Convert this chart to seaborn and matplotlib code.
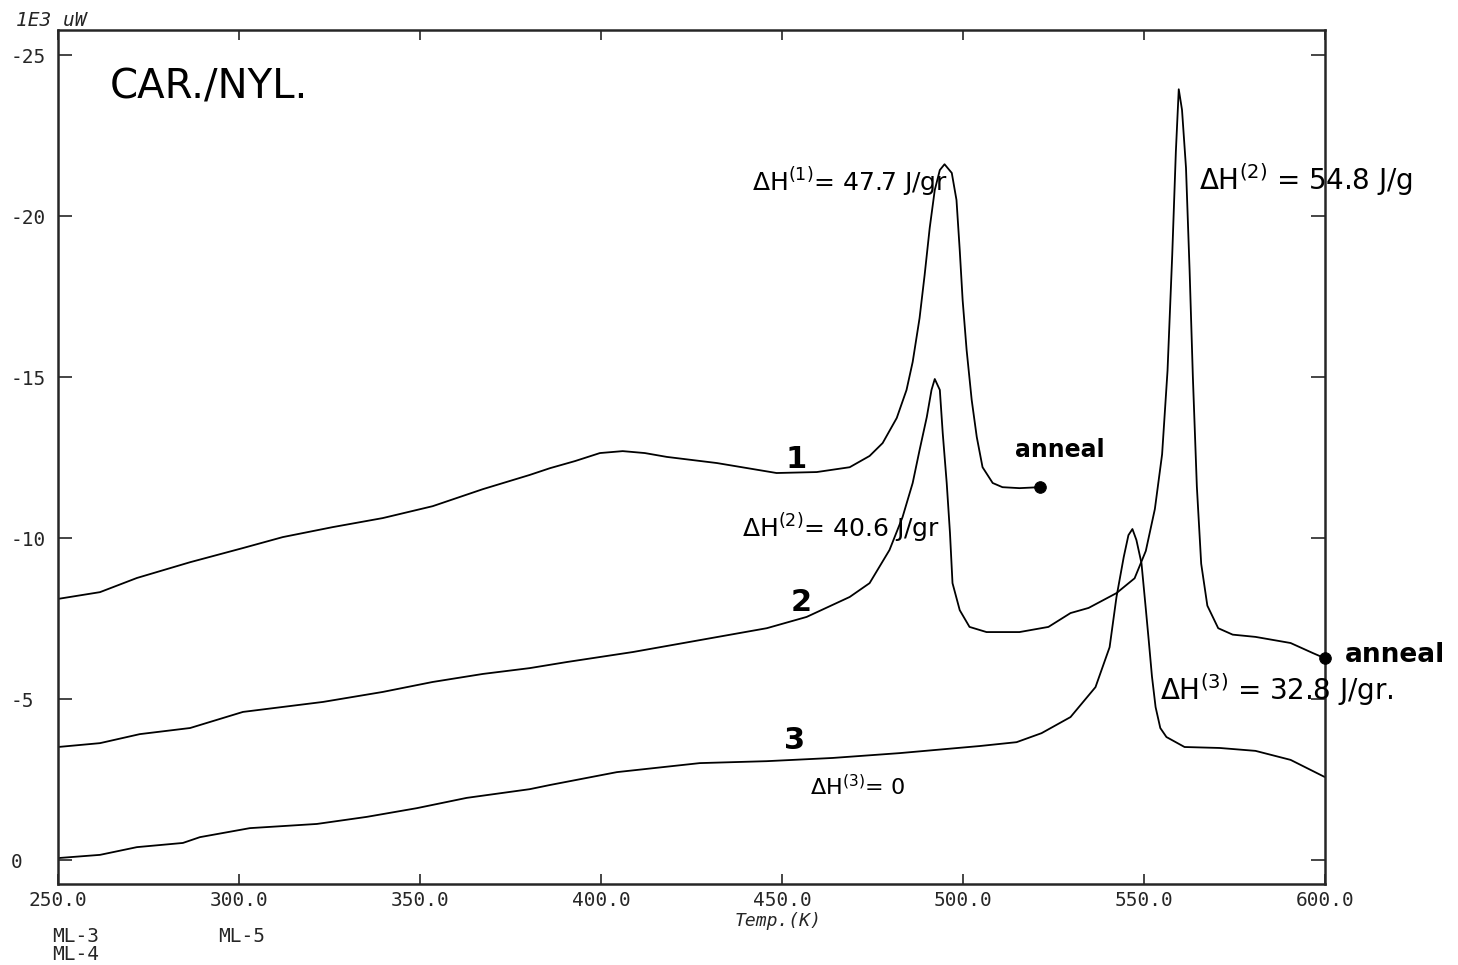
import matplotlib
matplotlib.use("Agg")
import matplotlib.pyplot as plt
import seaborn as sns
import pandas as pd

# ---- data (Temp in K, heat flow in 1E3 uW) ----
t1 = [250.0, 261.6, 271.8, 286.5, 301.1, 312.1, 325.9, 339.7, 353.5, 367.4, 380.3, 385.9,
      392.8, 399.7, 406.0, 412.1, 418.2, 432.0, 448.5, 459.6, 468.7, 474.2, 477.8, 481.7,
      484.4, 486.1, 488.0, 489.4, 490.8, 492.2, 493.6, 494.9, 496.9, 498.2, 499.1, 499.9,
      501.0, 502.4, 503.8, 505.4, 508.2, 510.9, 515.6, 521.2]
y1 = [-8.11, -8.32, -8.76, -9.25, -9.69, -10.03, -10.34, -10.62, -10.99, -11.52, -11.96, -12.17,
      -12.39, -12.64, -12.70, -12.64, -12.52, -12.33, -12.02, -12.05, -12.20, -12.55, -12.95, -13.73,
      -14.60, -15.47, -16.83, -18.17, -19.63, -20.81, -21.43, -21.61, -21.34, -20.50, -18.94, -17.39,
      -15.84, -14.29, -13.14, -12.20, -11.71, -11.58, -11.55, -11.58]

t2 = [250.0, 261.6, 272.6, 286.5, 301.1, 323.2, 339.7, 353.5, 367.4, 380.3, 390.6, 408.8,
      427.3, 445.8, 456.8, 468.7, 474.2, 479.7, 483.3, 486.1, 488.0, 490.0, 491.3, 492.2,
      493.6, 494.4, 495.5, 496.4, 497.1, 499.1, 501.8, 506.5, 515.6, 523.6, 529.7, 534.7,
      542.4, 547.4, 550.5, 553.0, 555.0, 556.5, 557.8, 558.8, 559.6, 560.5, 561.6, 562.6,
      563.5, 564.6, 565.8, 567.5, 570.5, 574.5, 580.8, 590.5, 596.6, 599.9]
y2 = [-3.51, -3.63, -3.91, -4.10, -4.60, -4.91, -5.22, -5.53, -5.78, -5.96, -6.15, -6.46,
      -6.83, -7.20, -7.55, -8.17, -8.60, -9.63, -10.65, -11.71, -12.73, -13.76, -14.60, -14.94,
      -14.60, -13.26, -11.71, -10.16, -8.60, -7.76, -7.24, -7.08, -7.08, -7.24, -7.67, -7.83,
      -8.29, -8.75, -9.60, -10.90, -12.60, -15.20, -18.80, -22.00, -23.94, -23.30, -21.50, -18.30,
      -15.00, -11.60, -9.20, -7.90, -7.20, -7.00, -6.93, -6.74, -6.43, -6.27]

t3 = [250.0, 261.6, 271.8, 284.5, 289.2, 303.0, 321.5, 335.3, 349.1, 362.9, 380.3, 385.9,
      404.4, 427.3, 445.8, 464.0, 482.5, 504.6, 514.8, 521.7, 529.7, 536.6, 540.5, 542.4,
      544.4, 545.7, 546.8, 547.9, 549.3, 550.5, 551.3, 552.2, 553.2, 554.5, 556.2, 561.2,
      570.9, 580.8, 590.5, 599.9]
y3 = [-0.06, -0.16, -0.40, -0.53, -0.71, -0.99, -1.12, -1.34, -1.61, -1.93, -2.20, -2.33,
      -2.73, -3.01, -3.07, -3.17, -3.32, -3.54, -3.66, -3.94, -4.44, -5.37, -6.61, -8.17,
      -9.41, -10.09, -10.28, -9.94, -9.22, -7.80, -6.83, -5.70, -4.75, -4.10, -3.82, -3.51,
      -3.48, -3.39, -3.11, -2.58]

x_ticks = [250, 300, 350, 400, 450, 500, 550, 600]
x_tick_labels = ["250.0", "300.0", "350.0", "400.0", "450.0", "500.0", "550.0", "600.0"]
y_ticks = [-25, -20, -15, -10, -5, 0]
y_tick_labels = ["-25", "-20", "-15", "-10", "-5", "0"]

sns.set_style("ticks")
plt.rcParams["font.family"] = ["DejaVu Sans"]

fig = plt.figure(figsize=(14.58, 9.65), dpi=100)
ax = fig.add_axes([58 / 1458, 1 - 884 / 965, (1325 - 58) / 1458, (884 - 30) / 965])

for t, y in [(t1, y1), (t2, y2), (t3, y3)]:
    df = pd.DataFrame({"T": t, "Q": y})
    sns.lineplot(data=df, x="T", y="Q", ax=ax, color="black", lw=1.3,
                 sort=False, estimator=None, legend=False)

# anneal end points
ends = pd.DataFrame({"T": [t1[-1], t2[-1]], "Q": [y1[-1], y2[-1]]})
sns.scatterplot(data=ends, x="T", y="Q", ax=ax, color="black", s=70,
                edgecolor="black", zorder=5, legend=False, clip_on=False)

ax.set_xlim(250, 600)
ax.set_ylim(0.745, -25.78)
ax.set_xlabel("")
ax.set_ylabel("")

mono = "DejaVu Sans Mono"
ax.set_xticks(x_ticks)
ax.set_xticklabels(x_tick_labels, fontfamily=mono, fontsize=14)
ax.set_yticks(y_ticks)
ax.set_yticklabels(y_tick_labels, fontfamily=mono, fontsize=14, ha="left")
ax.tick_params(axis="x", direction="in", length=7, width=1.2, top=True, pad=5)
ax.tick_params(axis="y", direction="in", length=10, width=1.2, right=True, pad=34)
for s in ax.spines.values():
    s.set_linewidth(1.8)
    s.set_visible(True)

# handwritten annotations
hand = dict(color="black", clip_on=False)
ax.text(264.4, -23.98, "CAR./NYL.", fontsize=29, ha="left", va="center", **hand)
ax.text(441.6, -21.06, "ΔH$^{(1)}$= 47.7 J/gr", fontsize=18, ha="left", va="center", **hand)
ax.text(565.3, -21.12, "ΔH$^{(2)}$ = 54.8 J/g", fontsize=20, ha="left", va="center", **hand)
ax.text(438.9, -10.31, "ΔH$^{(2)}$= 40.6 J/gr", fontsize=18, ha="left", va="center", **hand)
ax.text(554.3, -5.28, "ΔH$^{(3)}$ = 32.8 J/gr.", fontsize=20, ha="left", va="center", **hand)
ax.text(457.7, -2.27, "ΔH$^{(3)}$= 0", fontsize=16, ha="left", va="center", **hand)
ax.text(454.0, -12.45, "1", fontsize=22, fontweight="bold", ha="center", va="center", **hand)
ax.text(455.4, -8.0, "2", fontsize=22, fontweight="bold", ha="center", va="center", **hand)
ax.text(453.5, -3.7, "3", fontsize=22, fontweight="bold", ha="center", va="center", **hand)
ax.text(514.3, -12.73, "anneal", fontsize=17, fontweight="bold", ha="left", va="center", **hand)
ax.text(605.4, -6.37, "anneal", fontsize=19, fontweight="bold", ha="left", va="center", **hand)

# instrument labels
fig.text(16 / 1458, 1 - 20 / 965, "1E3 uW", fontfamily=mono, fontstyle="italic",
         fontsize=14, ha="left", va="center")
fig.text(778 / 1458, 1 - 921 / 965, "Temp.(K)", fontfamily=mono, fontstyle="italic",
         fontsize=13, ha="center", va="center")
fig.text(52 / 1458, 1 - 936 / 965, "ML-3", fontfamily=mono, fontsize=14, ha="left", va="center")
fig.text(52 / 1458, 1 - 955 / 965, "ML-4", fontfamily=mono, fontsize=14, ha="left", va="center")
fig.text(218 / 1458, 1 - 936 / 965, "ML-5", fontfamily=mono, fontsize=14, ha="left", va="center")

fig.savefig("out.png", dpi=100)
